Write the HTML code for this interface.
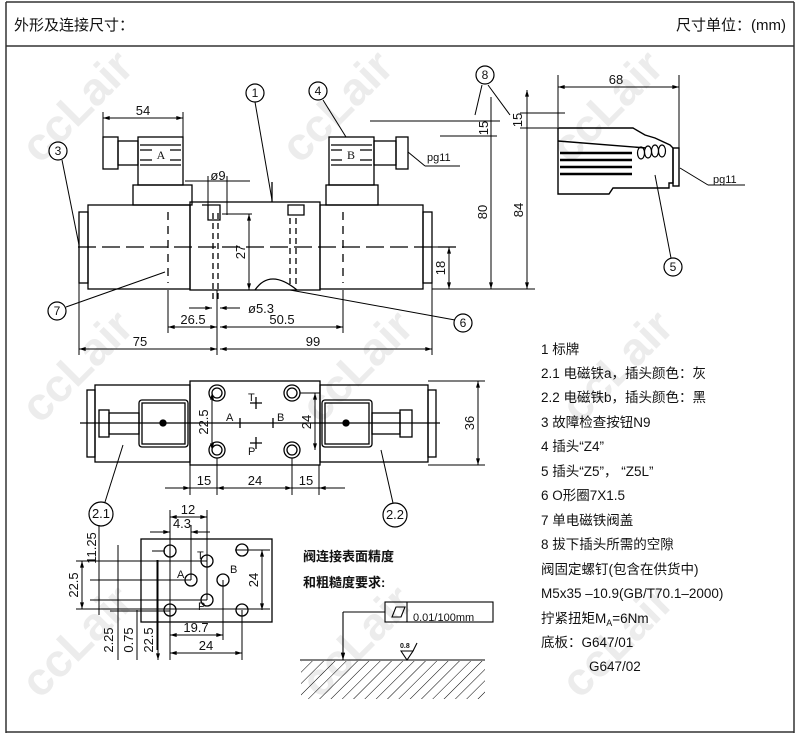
<!DOCTYPE html>
<html><head><meta charset="utf-8"><style>
html,body{margin:0;padding:0;background:#fff}
svg{display:block}
text{font-family:"Liberation Sans","Noto Sans CJK SC",sans-serif;fill:#111}
.n{font-family:"Liberation Sans Narrow","Liberation Sans",sans-serif;font-size:13px}
.l{font-size:13.5px;fill:#222}
.wm text{fill:#ececec;font-family:"Liberation Sans",sans-serif;font-weight:bold;font-size:46px}
</style></head><body>
<svg width="800" height="735" viewBox="0 0 800 735" xmlns="http://www.w3.org/2000/svg">
<defs>
<marker id="a" viewBox="0 0 10 6" refX="10" refY="3" markerWidth="8" markerHeight="4" orient="auto-start-reverse"><path d="M0,0L10,3L0,6z" fill="#000"/></marker>
<pattern id="h" width="8" height="8" patternUnits="userSpaceOnUse" patternTransform="rotate(45)"><line x1="0" y1="0" x2="0" y2="8" stroke="#000" stroke-width="1"/></pattern>
</defs>
<!-- watermarks -->
<g class="wm">
<text x="40" y="165" transform="rotate(-45 40 165)">ccLair</text>
<text x="300" y="165" transform="rotate(-45 300 165)">ccLair</text>
<text x="570" y="165" transform="rotate(-45 570 165)">ccLair</text>
<text x="40" y="425" transform="rotate(-45 40 425)">ccLair</text>
<text x="320" y="425" transform="rotate(-45 320 425)">ccLair</text>
<text x="580" y="425" transform="rotate(-45 580 425)">ccLair</text>
<text x="40" y="700" transform="rotate(-45 40 700)">ccLair</text>
<text x="320" y="700" transform="rotate(-45 320 700)">ccLair</text>
<text x="580" y="700" transform="rotate(-45 580 700)">ccLair</text>
</g>
<g fill="none" stroke="#333" stroke-width="1.5">
<line x1="6" y1="2" x2="794" y2="2"/>
<line x1="6" y1="46" x2="794" y2="46"/>
<line x1="6" y1="2" x2="6" y2="733"/>
<line x1="794" y1="2" x2="794" y2="733"/>
<line x1="6" y1="732" x2="794" y2="732"/>
</g>
<text x="14" y="30" style="font-size:15px">外形及连接尺寸：</text>
<text x="786" y="30" text-anchor="end" style="font-size:15px">尺寸单位：(mm)</text>

<g fill="none" stroke="#000" stroke-width="1.3">
<!-- FRONT VIEW -->
<rect x="79" y="212" width="9" height="71"/>
<rect x="88" y="205" width="102" height="84"/>
<rect x="190" y="202" width="130" height="88"/>
<rect x="320" y="205" width="103" height="84"/>
<rect x="423" y="212" width="9" height="71"/>
<rect x="133" y="185" width="59" height="20"/>
<rect x="138" y="137" width="45" height="48"/>
<rect x="326" y="185" width="52" height="20"/>
<rect x="329" y="137" width="45" height="48"/>
<rect x="118" y="141" width="20" height="24"/>
<rect x="103" y="137" width="15" height="32"/>
<rect x="374" y="141" width="22" height="24"/>
<rect x="396" y="137" width="12" height="32"/>
<path d="M202,205h18v15h-12v-15" /><path d="M288,205h16v10h-16z"/>
<line x1="78" y1="247" x2="458" y2="247" stroke-dasharray="18,6"/>
<line x1="168" y1="212" x2="168" y2="283" stroke-dasharray="8,6"/>
<line x1="343" y1="212" x2="343" y2="283" stroke-dasharray="8,6"/>
<line x1="213" y1="213" x2="213" y2="300" stroke-dasharray="6,4"/>
<line x1="218" y1="213" x2="218" y2="300" stroke-dasharray="6,4"/>
<line x1="290" y1="218" x2="290" y2="285" stroke-dasharray="6,4"/>
<line x1="296" y1="218" x2="296" y2="285" stroke-dasharray="6,4"/>
<path d="M255,290q15,-22 42,0" />
<line x1="272" y1="182" x2="272" y2="202"/>
</g>
<g stroke="#000" stroke-width="1.3">
<line x1="140" y1="145" x2="181" y2="145"/><line x1="140" y1="150" x2="181" y2="150"/><line x1="140" y1="160" x2="181" y2="160"/><line x1="140" y1="165" x2="181" y2="165"/>
<line x1="331" y1="145" x2="372" y2="145"/><line x1="331" y1="150" x2="372" y2="150"/><line x1="331" y1="160" x2="372" y2="160"/><line x1="331" y1="165" x2="372" y2="165"/>
</g>
<rect x="152" y="147" width="18" height="14" fill="#fff"/><text x="161" y="159" text-anchor="middle" style="font-family:'Liberation Serif';font-size:12px">A</text>
<rect x="342" y="147" width="18" height="14" fill="#fff"/><text x="351" y="159" text-anchor="middle" style="font-family:'Liberation Serif';font-size:12px">B</text>

<!-- dims front -->
<g stroke="#000" stroke-width="1" fill="none">
<line x1="103" y1="112" x2="103" y2="137"/><line x1="183" y1="112" x2="183" y2="137"/>
<line x1="103" y1="118" x2="183" y2="118" marker-start="url(#a)" marker-end="url(#a)"/>
<line x1="185" y1="181" x2="250" y2="181"/><line x1="208" y1="176" x2="208" y2="205"/><line x1="227" y1="176" x2="227" y2="215"/>
<line x1="222" y1="214" x2="252" y2="214"/>
<line x1="249" y1="214" x2="249" y2="290" marker-start="url(#a)" marker-end="url(#a)"/>
<line x1="189" y1="308" x2="212" y2="308" marker-end="url(#a)"/><line x1="220" y1="308" x2="240" y2="308" marker-start="url(#a)"/>
<line x1="168" y1="290" x2="168" y2="333"/><line x1="343" y1="290" x2="343" y2="333"/>
<line x1="217" y1="290" x2="217" y2="355"/><line x1="79" y1="283" x2="79" y2="355"/><line x1="432" y1="283" x2="432" y2="355"/>
<line x1="168" y1="327" x2="217" y2="327" marker-start="url(#a)" marker-end="url(#a)"/>
<line x1="220" y1="327" x2="343" y2="327" marker-start="url(#a)" marker-end="url(#a)"/>
<line x1="79" y1="349" x2="217" y2="349" marker-start="url(#a)" marker-end="url(#a)"/>
<line x1="220" y1="349" x2="432" y2="349" marker-start="url(#a)" marker-end="url(#a)"/>
<line x1="432" y1="247" x2="456" y2="247"/>
<line x1="449" y1="247" x2="449" y2="289" marker-start="url(#a)" marker-end="url(#a)"/>
<line x1="432" y1="289" x2="535" y2="289"/>
<line x1="370" y1="121" x2="500" y2="121"/><line x1="440" y1="136" x2="497" y2="136"/>
<line x1="491" y1="97" x2="491" y2="289" marker-end="url(#a)"/>
<line x1="527" y1="90" x2="527" y2="289" marker-start="url(#a)" marker-end="url(#a)"/>
<line x1="520" y1="113" x2="565" y2="113"/><line x1="520" y1="128" x2="558" y2="128"/>
<line x1="408" y1="152" x2="425" y2="166"/><line x1="425" y1="166" x2="460" y2="166"/>
<!-- leaders -->
<line x1="255" y1="102" x2="272" y2="200"/>
<line x1="323" y1="100" x2="346" y2="137"/>
<line x1="62" y1="160" x2="79" y2="245"/>
<line x1="66" y1="307" x2="165" y2="272"/>
<line x1="455" y1="320" x2="290" y2="290"/>
<line x1="482" y1="85" x2="475" y2="115"/><line x1="488" y1="85" x2="510" y2="115"/>
<line x1="671" y1="258" x2="655" y2="175"/>
<line x1="680" y1="168" x2="708" y2="185"/><line x1="708" y1="185" x2="745" y2="185"/>
<!-- connector side -->
<line x1="558" y1="75" x2="558" y2="127"/><line x1="679" y1="75" x2="679" y2="150"/>
<line x1="558" y1="87" x2="679" y2="87" marker-start="url(#a)" marker-end="url(#a)"/>
</g>
<g fill="none" stroke="#000" stroke-width="1.4">
<path d="M558,128h75l12,7l10,3l15,7l3,3v35h-4v5h-56l-4,6h-51z"/>
<path d="M558,141l88,7"/>
<rect x="673" y="148" width="6" height="38"/>
</g>
<g stroke="#000" stroke-width="2.5"><line x1="560" y1="153" x2="632" y2="153"/><line x1="560" y1="160" x2="632" y2="160"/><line x1="560" y1="167" x2="632" y2="167"/><line x1="560" y1="174" x2="632" y2="174"/></g>
<g fill="none" stroke="#000" stroke-width="1.2"><ellipse cx="641" cy="153" rx="3.5" ry="6"/><ellipse cx="648" cy="152" rx="3.5" ry="6"/><ellipse cx="655" cy="151" rx="3.5" ry="6"/><ellipse cx="662" cy="151" rx="3.5" ry="6"/></g>

<g class="n">
<text x="143" y="115" text-anchor="middle">54</text>
<text x="218" y="180" text-anchor="middle">ø9</text>
<text x="248" y="313">ø5.3</text>
<text x="193" y="324" text-anchor="middle">26.5</text>
<text x="282" y="324" text-anchor="middle">50.5</text>
<text x="140" y="346" text-anchor="middle">75</text>
<text x="313" y="346" text-anchor="middle">99</text>
<text x="616" y="84" text-anchor="middle">68</text>
<text x="427" y="161" style="font-size:11px">pg11</text>
<text x="713" y="183" style="font-size:11px">pg11</text>
<text transform="translate(245,252) rotate(-90)" text-anchor="middle">27</text>
<text transform="translate(445,268) rotate(-90)" text-anchor="middle">18</text>
<text transform="translate(487,212) rotate(-90)" text-anchor="middle">80</text>
<text transform="translate(523,210) rotate(-90)" text-anchor="middle">84</text>
<text transform="translate(488,128) rotate(-90)" text-anchor="middle">15</text>
<text transform="translate(522,120) rotate(-90)" text-anchor="middle">15</text>
</g>
<g fill="#fff" stroke="#000" stroke-width="1.2">
<circle cx="255" cy="93" r="9"/><circle cx="318" cy="91" r="9"/><circle cx="58" cy="151" r="9"/><circle cx="57" cy="311" r="9"/><circle cx="463" cy="323" r="9"/><circle cx="485" cy="75" r="9"/><circle cx="673" cy="267" r="9"/>
<circle cx="101" cy="514" r="12"/><circle cx="395" cy="515" r="12"/>
</g>
<g style="font-family:'Liberation Serif';font-size:12px" text-anchor="middle">
<text x="255" y="97">1</text><text x="318" y="95">4</text><text x="58" y="155">3</text><text x="57" y="315">7</text><text x="463" y="327">6</text><text x="485" y="79">8</text><text x="673" y="271">5</text>
<text x="101" y="518" class="n">2.1</text><text x="395" y="519" class="n">2.2</text>
</g>

<!-- TOP VIEW -->
<g fill="none" stroke="#000" stroke-width="1.3">
<rect x="87" y="390" width="8" height="67"/>
<rect x="95" y="385" width="95" height="77"/>
<rect x="190" y="381" width="130" height="84"/>
<rect x="320" y="385" width="108" height="77"/>
<rect x="428" y="390" width="8" height="67"/>
<rect x="99" y="410" width="10" height="27"/><rect x="109" y="413" width="30" height="21"/>
<rect x="139" y="400" width="49" height="47" rx="3"/><rect x="142" y="403" width="43" height="41"/>
<rect x="322" y="400" width="50" height="47" rx="3"/><rect x="325" y="403" width="44" height="41"/>
<rect x="372" y="413" width="28" height="21"/><rect x="400" y="410" width="12" height="27"/>
<line x1="80" y1="423" x2="440" y2="423"/>
<circle cx="217" cy="393" r="8"/><circle cx="217" cy="393" r="5"/>
<circle cx="292" cy="393" r="8"/><circle cx="292" cy="393" r="5"/>
<circle cx="217" cy="450" r="8"/><circle cx="217" cy="450" r="5"/>
<circle cx="292" cy="450" r="8"/><circle cx="292" cy="450" r="5"/>
<path d="M256,397v12M250,403h12M256,437v12M250,443h12M240,418v10M273,418v10"/>
<circle cx="163" cy="423" r="3" fill="#000"/><circle cx="346" cy="423" r="3" fill="#000"/>
</g>
<g stroke="#000" stroke-width="1" fill="none">
<line x1="212" y1="393" x2="212" y2="450" marker-start="url(#a)" marker-end="url(#a)"/>
<line x1="300" y1="393" x2="320" y2="393"/><line x1="315" y1="393" x2="315" y2="450" marker-start="url(#a)" marker-end="url(#a)"/>
<line x1="428" y1="381" x2="485" y2="381"/><line x1="428" y1="465" x2="485" y2="465"/>
<line x1="478" y1="381" x2="478" y2="465" marker-start="url(#a)" marker-end="url(#a)"/>
<line x1="190" y1="465" x2="190" y2="495"/><line x1="217" y1="458" x2="217" y2="495"/><line x1="292" y1="458" x2="292" y2="495"/><line x1="319" y1="465" x2="319" y2="495"/>
<line x1="165" y1="488" x2="190" y2="488" marker-end="url(#a)"/><line x1="217" y1="488" x2="292" y2="488" marker-start="url(#a)" marker-end="url(#a)"/><line x1="319" y1="488" x2="345" y2="488" marker-start="url(#a)"/>
<line x1="190" y1="488" x2="217" y2="488"/><line x1="292" y1="488" x2="319" y2="488"/>
<line x1="105" y1="502" x2="123" y2="445"/><line x1="393" y1="503" x2="381" y2="450"/>
</g>
<g class="n">
<text transform="translate(208,422) rotate(-90)" text-anchor="middle">22.5</text>
<text transform="translate(311,422) rotate(-90)" text-anchor="middle">24</text>
<text transform="translate(474,423) rotate(-90)" text-anchor="middle">36</text>
<text x="204" y="485" text-anchor="middle">15</text><text x="255" y="485" text-anchor="middle">24</text><text x="306" y="485" text-anchor="middle">15</text>
</g>
<g style="font-family:'Liberation Serif';font-size:11px">
<text x="226" y="421">A</text><text x="277" y="421">B</text><text x="248" y="401">T</text><text x="248" y="455">P</text>
</g>

<!-- PORT PLATE -->
<g fill="none" stroke="#000" stroke-width="1.3">
<rect x="141" y="539" width="131" height="83"/>
<circle cx="170" cy="551" r="6"/><circle cx="242" cy="550" r="6"/><circle cx="207" cy="561" r="6"/>
<circle cx="191" cy="580" r="6"/><circle cx="223" cy="580" r="6"/><circle cx="207" cy="600" r="6"/>
<circle cx="170" cy="610" r="6"/><circle cx="242" cy="610" r="6"/>
</g>
<g stroke="#000" stroke-width="1" fill="none">
<line x1="170" y1="510" x2="170" y2="660"/><line x1="207" y1="510" x2="207" y2="600"/><line x1="191" y1="525" x2="191" y2="580"/>
<line x1="223" y1="580" x2="223" y2="640"/><line x1="242" y1="610" x2="242" y2="660"/>
<line x1="170" y1="517" x2="207" y2="517" marker-start="url(#a)" marker-end="url(#a)"/>
<line x1="150" y1="532" x2="170" y2="532" marker-end="url(#a)"/><line x1="191" y1="532" x2="210" y2="532" marker-start="url(#a)"/>
<line x1="170" y1="635" x2="223" y2="635" marker-start="url(#a)" marker-end="url(#a)"/>
<line x1="170" y1="653" x2="242" y2="653" marker-start="url(#a)" marker-end="url(#a)"/>
<line x1="152" y1="551" x2="165" y2="551"/><line x1="235" y1="550" x2="270" y2="550"/>
<line x1="76" y1="561" x2="207" y2="561"/><line x1="90" y1="580" x2="191" y2="580"/><line x1="90" y1="600" x2="207" y2="600"/>
<line x1="76" y1="609" x2="270" y2="609"/><line x1="110" y1="611" x2="170" y2="611"/>
<line x1="262" y1="550" x2="262" y2="610" marker-start="url(#a)" marker-end="url(#a)"/>
<line x1="82" y1="561" x2="82" y2="609" marker-start="url(#a)" marker-end="url(#a)"/>
<line x1="99" y1="525" x2="99" y2="615"/>
<line x1="118" y1="545" x2="118" y2="660"/>
<line x1="158" y1="560" x2="158" y2="660" marker-end="url(#a)"/>
<line x1="137" y1="610" x2="137" y2="660"/>
<line x1="157" y1="560" x2="157" y2="650"/>
</g>
<g class="n">
<text x="188" y="514" text-anchor="middle">12</text>
<text x="182" y="528" text-anchor="middle">4.3</text>
<text x="196" y="632" text-anchor="middle">19.7</text>
<text x="206" y="650" text-anchor="middle">24</text>
<text transform="translate(258,580) rotate(-90)" text-anchor="middle">24</text>
<text transform="translate(78,585) rotate(-90)" text-anchor="middle">22.5</text>
<text transform="translate(96,548) rotate(-90)" text-anchor="middle">11.25</text>
<text transform="translate(113,640) rotate(-90)" text-anchor="middle">2.25</text>
<text transform="translate(133,640) rotate(-90)" text-anchor="middle">0.75</text>
<text transform="translate(153,640) rotate(-90)" text-anchor="middle">22.5</text>
</g>
<g style="font-family:'Liberation Serif';font-size:11px">
<text x="197" y="559">T</text><text x="177" y="578">A</text><text x="230" y="573">B</text><text x="198" y="610">P</text>
</g>

<!-- surface requirement -->
<text x="303" y="561" style="font-size:13px;font-weight:bold">阀连接表面精度</text>
<text x="303" y="587" style="font-size:13px;font-weight:bold">和粗糙度要求:</text>
<g fill="none" stroke="#000" stroke-width="1.1">
<rect x="385" y="602" width="108" height="20"/><line x1="407" y1="602" x2="407" y2="622"/>
<path d="M392,617l4,-10h9l-4,10z"/>
<line x1="385" y1="612" x2="343" y2="612"/><line x1="343" y1="612" x2="343" y2="660" marker-end="url(#a)"/>
<path d="M401,651l6,9l6,-9zM413,651l4,-8"/>
<line x1="300" y1="660" x2="485" y2="660"/>
</g>
<rect x="301" y="661" width="184" height="38" fill="url(#h)"/>
<text x="413" y="621" class="n" style="font-size:11px">0.01/100mm</text>
<text x="400" y="648" style="font-size:7px;font-weight:bold">0.8</text>

<!-- legend -->
<g class="l">
<text x="541" y="354">1 标牌</text>
<text x="541" y="378">2.1 电磁铁a，插头颜色：灰</text>
<text x="541" y="402">2.2 电磁铁b，插头颜色：黑</text>
<text x="541" y="427">3 故障检查按钮N9</text>
<text x="541" y="451">4 插头“Z4”</text>
<text x="541" y="476">5 插头“Z5”，  “Z5L”</text>
<text x="541" y="500">6 O形圈7X1.5</text>
<text x="541" y="525">7 单电磁铁阀盖</text>
<text x="541" y="549">8 拔下插头所需的空隙</text>
<text x="541" y="574">阀固定螺钉(包含在供货中)</text>
<text x="541" y="598">M5x35 –10.9(GB/T70.1–2000)</text>
<text x="541" y="623">拧紧扭矩M<tspan style="font-size:9px" dy="3">A</tspan><tspan dy="-3">=6Nm</tspan></text>
<text x="541" y="647">底板：G647/01</text>
<text x="589" y="671">G647/02</text>
</g>
</svg>
</body></html>
